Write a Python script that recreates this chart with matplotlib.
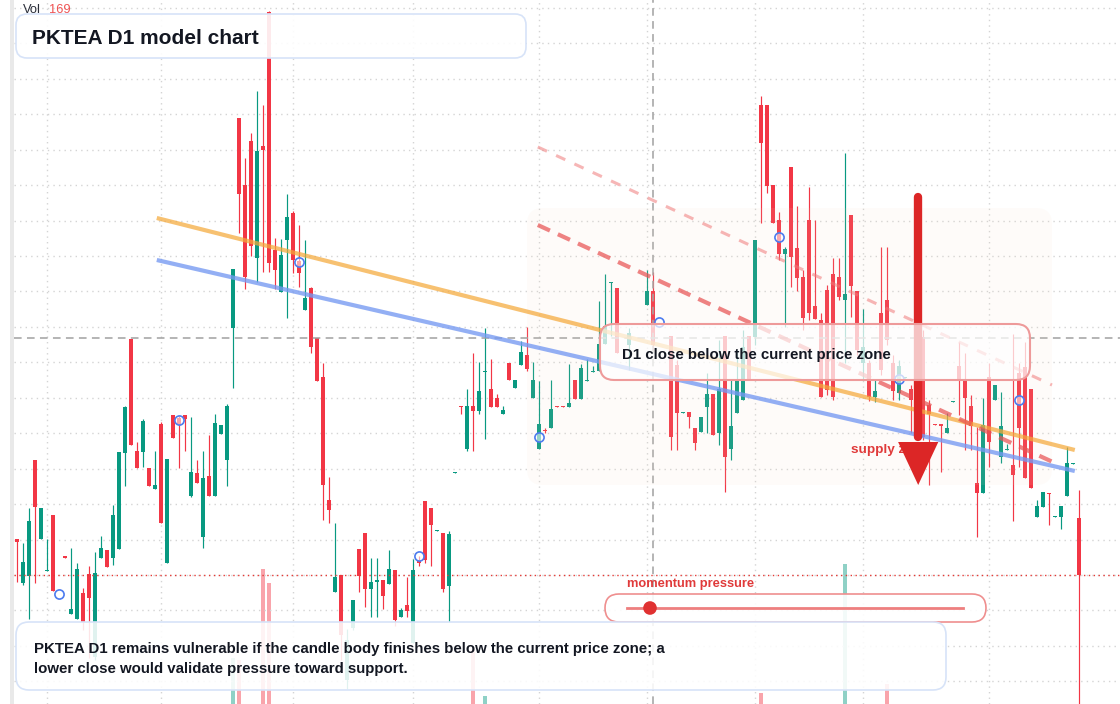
import numpy as np
import matplotlib
matplotlib.use("Agg")
import matplotlib.pyplot as plt
from matplotlib.patches import FancyBboxPatch, Polygon, Circle, Rectangle
from matplotlib.transforms import Affine2D
from matplotlib.lines import Line2D

plt.rcParams['font.family'] = ['Liberation Sans', 'DejaVu Sans']

nan = np.nan
# ---- daily candles (price units), index = trading day ----
opens = [16.5, 12.1, 12.8, 24.4, 16.5, 13.3, 18.9, nan, 14.8, 9.0,
         8.5, 11.1, 13.0, 4.7, 14.6, 15.4, 14.6, 15.5, 25.1, 36.5,
         25.3, 25.2, 23.6, 21.5, 28.0, 14.1, 28.9, 28.6, 28.9, 20.8,
         23.1, 16.7, 22.8, 20.8, 27.0, 24.4, 37.6, 58.6, 51.9, 56.3,
         44.6, 55.8, 69.2, 45.4, 41.2, 46.4, 49.1, 44.3, 39.4, 41.6,
         36.6, 32.7, 20.4, 11.2, 12.9, 2.4, 7.6, 15.5, 17.1, 11.5,
         12.2, 12.4, 12.0, 13.4, 8.7, 9.9, 6.1, 14.4, 20.3, 19.6,
         17.3, 17.1, 11.8, 23.1, 29.8, 25.5, 29.8, 29.3, 33.2, 31.5,
         30.6, 29.0, 34.1, 31.6, 33.9, 34.9, 30.6, 25.5, 27.4, 27.6,
         29.8, 29.8, 29.7, 32.4, 30.5, 32.3, 33.2, 33.3, 36.0, 42.1,
         41.6, nan, 35.9, nan, nan, 39.9, 41.3, nan, nan, 36.8,
         33.9, 29.1, 29.2, 27.6, 27.2, 29.7, 31.0, 27.1, 36.8, 25.5,
         29.1, 30.4, 36.8, 36.7, 59.9, 59.9, 51.9, 48.4, 45.0, 53.7,
         45.6, 42.7, 48.4, 39.8, 38.4, 41.4, 43.0, 42.7, 40.4, 48.9,
         41.3, 34.1, 34.1, 30.7, 39.1, 40.4, 34.1, 31.1, 32.6, 31.5,
         nan, 36.7, 29.9, 28.0, 28.0, 27.1, 30.2, 33.8, 32.4, 29.8,
         22.1, 21.1, 32.7, 30.4, 24.7, 25.4, 23.9, 33.1, 33.7, 31.5,
         18.7, 19.7, 21.1, 18.7, 18.7, 20.8, 24.0, 18.6]
highs = [16.5, 16.1, 19.6, 24.4, 19.6, 16.5, 18.9, nan, 14.8, 15.6,
         14.1, 11.6, 13.8, 15.2, 16.8, 15.4, 19.9, 25.2, 29.8, 36.5,
         26.2, 28.5, 23.6, 25.3, 28.2, 24.5, 28.9, 28.8, 28.9, 28.7,
         24.4, 25.3, 26.9, 29.0, 27.9, 30.0, 43.5, 58.6, 54.6, 57.1,
         61.3, 59.9, 69.3, 46.6, 46.5, 51.0, 49.3, 47.9, 46.4, 41.7,
         36.6, 34.1, 22.7, 18.1, 12.9, 7.5, 10.4, 15.5, 17.1, 14.6,
         14.6, 12.4, 15.4, 13.4, 9.6, 12.7, 14.5, 14.8, 20.3, 19.6,
         17.4, 17.1, 17.3, 23.2, 29.8, 31.5, 35.1, 34.2, 37.6, 34.5,
         31.0, 29.8, 34.1, 32.4, 36.3, 37.7, 34.2, 32.3, 27.6, 32.4,
         29.8, 29.8, 34.0, 32.4, 34.0, 34.5, 33.8, 40.3, 43.0, 42.2,
         41.6, nan, 37.6, nan, nan, 43.4, 43.2, nan, nan, 36.8,
         34.4, 29.2, 29.2, 27.6, 28.7, 33.1, 31.0, 36.4, 36.8, 32.4,
         35.4, 37.4, 36.8, 46.4, 60.8, 59.9, 51.9, 49.2, 45.7, 53.7,
         49.8, 43.4, 51.7, 48.4, 39.1, 41.9, 44.6, 44.6, 55.1, 48.9,
         41.3, 39.5, 34.4, 32.4, 45.7, 45.7, 34.9, 34.4, 32.7, 31.9,
         nan, 37.4, 30.4, 28.0, 28.0, 29.1, 30.3, 36.2, 35.1, 30.9,
         27.7, 30.6, 34.1, 31.9, 31.2, 26.0, 37.0, 34.1, 36.2, 31.5,
         20.4, 21.2, 21.1, 18.8, 19.8, 25.7, 24.1, 21.4]
lows = [12.2, 11.9, 8.5, 12.1, 16.5, 13.3, 11.3, nan, 14.6, 9.0,
        8.5, 7.4, 4.6, 4.4, 14.6, 13.7, 13.9, 15.5, 21.8, 25.9,
        23.6, 23.7, 21.8, 21.5, 18.1, 14.1, 26.6, 23.6, 25.3, 20.7,
        22.1, 15.6, 20.8, 20.8, 27.0, 21.8, 31.6, 47.1, 41.5, 44.8,
        42.2, 43.2, 43.2, 41.5, 41.2, 38.6, 43.1, 41.7, 39.4, 35.1,
        32.3, 18.4, 18.1, 11.2, 4.4, 1.5, 7.4, 11.2, 9.7, 8.7,
        8.7, 9.5, 12.0, 7.8, 8.7, 8.7, 6.1, 13.8, 14.1, 13.8,
        17.3, 11.2, 8.2, 23.1, 29.0, 25.3, 25.3, 29.0, 26.5, 29.7,
        29.7, 29.0, 32.4, 31.6, 33.9, 33.3, 30.6, 25.5, 27.1, 27.6,
        29.7, 29.7, 29.7, 30.5, 30.5, 32.3, 33.2, 33.3, 36.0, 36.8,
        35.1, nan, 33.4, nan, nan, 39.9, 35.4, nan, nan, 25.4,
        25.4, 29.1, 27.6, 25.4, 27.2, 27.1, 26.9, 25.9, 21.2, 24.4,
        29.1, 30.4, 32.4, 35.9, 48.1, 51.1, 48.1, 44.4, 37.7, 41.7,
        41.3, 37.4, 38.4, 38.5, 30.7, 30.9, 30.4, 40.4, 34.1, 38.7,
        34.9, 32.4, 30.3, 30.2, 32.9, 35.9, 30.4, 30.4, 32.6, 27.1,
        nan, 26.4, 21.9, 27.9, 23.2, 27.1, 30.2, 28.9, 25.4, 25.4,
        16.7, 21.1, 23.7, 30.4, 24.1, 25.4, 18.3, 23.7, 22.6, 21.6,
        18.7, 19.7, 17.9, 18.7, 17.5, 20.8, 24.0, -1.6]
closes = [16.2, 14.2, 18.3, 19.7, 19.6, 13.4, 11.3, nan, 14.6, 9.5,
          13.5, 8.2, 10.6, 13.1, 15.6, 13.7, 18.9, 25.2, 29.7, 25.9,
          23.6, 28.3, 21.8, 21.9, 18.1, 24.5, 26.6, 28.0, 28.5, 23.2,
          22.1, 22.6, 20.8, 28.1, 27.9, 29.8, 43.5, 51.0, 42.7, 45.8,
          55.3, 55.4, 44.1, 43.4, 44.9, 48.7, 44.4, 43.1, 40.6, 35.7,
          32.3, 21.9, 19.4, 12.7, 6.9, 6.4, 10.4, 12.8, 11.5, 12.2,
          12.4, 10.8, 13.5, 8.4, 9.4, 9.3, 13.4, 14.1, 14.4, 17.9,
          17.4, 11.5, 17.0, 23.2, 29.7, 29.8, 29.3, 31.3, 33.3, 29.7,
          29.7, 29.4, 32.4, 32.4, 35.2, 33.5, 32.4, 28.0, 27.3, 29.5,
          29.7, 29.7, 30.1, 30.5, 33.6, 32.4, 33.3, 36.0, 37.8, 42.2,
          35.1, nan, 37.1, nan, nan, 41.3, 35.9, nan, nan, 26.7,
          29.1, 29.2, 28.7, 26.1, 28.7, 31.0, 26.9, 31.5, 24.7, 27.8,
          32.4, 35.7, 32.4, 46.4, 56.1, 51.8, 48.1, 45.0, 45.5, 44.7,
          42.6, 38.6, 39.1, 38.5, 30.7, 31.4, 30.7, 40.7, 41.0, 41.8,
          35.4, 35.7, 30.7, 31.3, 33.4, 36.4, 31.3, 33.8, 32.7, 30.4,
          nan, 26.7, 29.0, 27.9, 27.8, 27.6, 30.3, 32.4, 30.6, 27.8,
          21.1, 27.9, 26.2, 31.9, 27.8, 25.5, 22.9, 27.6, 22.6, 21.6,
          19.8, 21.2, 21.0, 18.8, 19.8, 24.1, 24.1, 12.9]

# volume (only bars that rise into view)
vol_index = [36, 37, 41, 42, 76, 78, 124, 138, 145]
vol_values = [79, 77, 164, 151, 86, 42, 45, 169, 54]
last_vol = 169
vol_view = (34.6, 710.6)   # volume pane scale: its zero sits below the picture

# model signal points
signal_index = [7, 27, 47, 67, 87, 107, 127, 147, 167]
signal_price = [11.0, 28.4, 44.2, 14.8, 26.7, 38.2, 46.7, 32.5, 30.4]

# trend structure (index, price) pairs
orange_line = [(23.3, 48.6), (176.3, 25.4)]
blue_line = [(23.3, 44.4), (176.3, 23.3)]
red_dash_strong = [(86.8, 47.9), (173.0, 24.1)]
red_dash_light = [(86.8, 55.7), (172.5, 31.9)]
zone_index = (85.0, 172.5)
zone_price = (21.9, 49.6)
arrow_index = 150.2
arrow_from, arrow_head, arrow_to = 50.7, 26.2, 21.9
crosshair_index, crosshair_price = 106, 36.6
month_starts = [5, 24, 46, 66, 87, 105, 123, 141, 162]
grid_top, grid_step = 69.62, 3.545

title = "PKTEA D1 model chart"
note = "D1 close below the current price zone"
zone_label = "supply zone"
slider_label = "momentum pressure"
body_lines = ["PKTEA D1 remains vulnerable if the candle body finishes below the current price zone; a",
              "lower close would validate pressure toward support."]

UP, DOWN = '#089981', '#f23645'
W, H = 1120, 704

fig = plt.figure(figsize=(W / 100, H / 100), dpi=100)
fig.patch.set_facecolor('white')
T = Affine2D().scale(1 / 100.) + fig.dpi_scale_trans   # pixel units, origin bottom-left

axv = fig.add_axes([0, 0, 1, 1])
ax = fig.add_axes([0, 0, 1, 1], sharex=axv)
for a in (axv, ax):
    a.set_axis_off()
    a.patch.set_alpha(0)
xlo, xhi = -17 / 6, (W - 17) / 6
ax.set_xlim(xlo, xhi)
ax.set_ylim(0, 70.4)
axv.set_ylim(*vol_view)

# grid
gy = np.arange(grid_top, 0, -grid_step)
ax.hlines(gy, -0.5, xhi, colors='#d4d4d4', lw=1.0, linestyles=(0, (1, 3)), zorder=1)
ax.vlines(month_starts, 0, 70.4, colors='#d4d4d4', lw=1.0, linestyles=(0, (1, 3)), zorder=1)

# left pane border band
fig.add_artist(Rectangle((10, 0), 4, H, transform=T, facecolor='#e9e9e9', edgecolor='none', zorder=0.5))

# volume
o = np.array(opens, float); h = np.array(highs, float)
l = np.array(lows, float); c = np.array(closes, float)
x = np.arange(len(o))
vcol = [UP if c[i] >= o[i] else DOWN for i in vol_index]
axv.bar(vol_index, vol_values, width=0.78, bottom=0, color=vcol, alpha=0.45, linewidth=0, zorder=1)

# candles
ok = ~np.isnan(o)
col = np.where(c >= o, UP, DOWN)
ax.vlines(x[ok], l[ok], h[ok], colors=col[ok], lw=0.85, zorder=3)
bottom = np.minimum(o, c)
height = np.maximum(np.abs(c - o), 0.13)
ax.bar(x[ok], height[ok], bottom=bottom[ok], width=0.78, color=col[ok], linewidth=0, zorder=4)

# current close (dotted) and crosshair
ax.hlines(c[-1], -0.5, xhi, colors='#e53935', lw=1.0, linestyles=(0, (1, 2.5)), zorder=5)
ax.hlines(crosshair_price, -0.5, xhi, colors='#a0a0a0', lw=1.1, linestyles=(0, (5, 3.5)), zorder=5)
ax.axvline(crosshair_index, color='#a0a0a0', lw=1.1, ls=(0, (5, 3.5)), zorder=5)

# supply zone (rounded, pixel based)
fig.canvas.draw()
p0 = ax.transData.transform((zone_index[0], zone_price[0]))
p1 = ax.transData.transform((zone_index[1], zone_price[1]))
ax.add_patch(FancyBboxPatch((p0[0], p0[1]), p1[0] - p0[0], p1[1] - p0[1],
                            boxstyle="round,pad=0,rounding_size=16", transform=T,
                            facecolor=(0.97, 0.86, 0.76, 0.09), edgecolor='none', zorder=6))

# trend lines
ax.plot(*zip(*orange_line), color='#f5a93a', alpha=0.72, lw=3.0, solid_capstyle='butt', zorder=7)
ax.plot(*zip(*blue_line), color='#7599f2', alpha=0.78, lw=3.0, solid_capstyle='butt', zorder=7)
ax.plot(*zip(*red_dash_strong), color='#e85454', alpha=0.72, lw=3.0, ls=(0, (3.2, 2.1)), zorder=7)
ax.plot(*zip(*red_dash_light), color='#f07a7a', alpha=0.55, lw=2.2, ls=(0, (3.3, 3.3)), zorder=7)

# signal markers
ax.plot(signal_index, signal_price, 'o', ms=6.6, mfc=(1, 1, 1, 0.55), mec='#4c7bef', mew=1.2, zorder=8)

# supply zone label + arrow
ax.text(851, H - 453, zone_label, transform=T, fontsize=9.7, fontweight='bold', color='#e03a3a', zorder=9)
ax.plot([arrow_index, arrow_index], [arrow_from, arrow_head + 0.5], color='#dc2626', lw=6.0,
        solid_capstyle='round', zorder=10)
ax.add_patch(Polygon([(arrow_index - 3.35, arrow_head), (arrow_index + 3.35, arrow_head),
                      (arrow_index, arrow_to)], closed=True, facecolor='#dc2626', edgecolor='none', zorder=10))


def rbox(x0, y0, x1, y1, r, fc, ec, lw, z):
    p = FancyBboxPatch((x0, H - y1), x1 - x0, y1 - y0, boxstyle=f"round,pad=0,rounding_size={r}",
                       transform=T, facecolor=fc, edgecolor=ec, linewidth=lw, zorder=z)
    fig.add_artist(p)


def ftext(xp, yb, s, **kw):
    fig.text(xp, H - yb, s, transform=T, va='baseline', ha='left', **kw)


# note box
rbox(600, 324, 1030, 380, 14, (1, 1, 1, 0.72), '#ee9a9a', 1.5, 20)
ftext(622, 359, note, fontsize=10.8, fontweight='bold', color='#131722', zorder=21)

# title box
rbox(16, 14, 526, 58, 11, (1, 1, 1, 0.9), '#d7e3f8', 1.2, 20)
ftext(32, 43.5, title, fontsize=15, fontweight='bold', color='#131722', zorder=21)
ftext(23, 13, "Vol", fontsize=9.3, color='#2a2e39', zorder=21)
ftext(49, 13, str(last_vol), fontsize=9.3, color='#f05454', zorder=21)

# slider
ftext(627, 587, slider_label, fontsize=9.3, fontweight='bold', color='#e03a3a', zorder=21)
rbox(605, 594, 986, 622, 14, (1, 1, 1, 0.9), '#ef8f8f', 1.2, 20)
fig.add_artist(Line2D([627, 963], [H - 608, H - 608], transform=T, color='#ee7f7f', lw=2.0, zorder=21))
fig.add_artist(Circle((650, H - 608), 6.8, transform=T, facecolor='#e03131', edgecolor='none', zorder=22))

# explanation box
rbox(16, 622, 946, 690, 13, (1, 1, 1, 0.88), '#d7e3f8', 1.2, 20)
ftext(34, 653, body_lines[0], fontsize=10.8, fontweight='bold', color='#131722', zorder=21)
ftext(34, 673, body_lines[1], fontsize=10.8, fontweight='bold', color='#131722', zorder=21)

fig.savefig('out.png', dpi=100, facecolor='white')
